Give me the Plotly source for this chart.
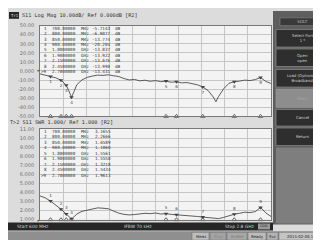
import plotly.graph_objects as go

# ---------------- data ----------------
freq_mhz = [600, 650, 700, 750, 800, 850, 875, 900, 925, 950, 1000, 1050, 1100, 1150,
            1200, 1250, 1300, 1350, 1400, 1450, 1500, 1550, 1600, 1650, 1700, 1750,
            1800, 1850, 1900, 1950, 2000, 2050, 2100, 2150, 2200, 2250, 2275, 2300,
            2350, 2400, 2450, 2500, 2550, 2600, 2650, 2700, 2750, 2800]
s11_db = [-3.2, -4.5, -6.2, -7.6, -10.1, -15.8, -22.0, -29.0, -22.5, -15.2, -9.8, -7.0,
          -5.6, -4.6, -4.9, -4.2, -5.3, -6.1, -8.4, -9.9, -9.3, -10.9, -10.2, -11.4,
          -10.6, -11.8, -11.2, -12.4, -11.9, -13.1, -12.8, -14.2, -15.3, -17.6, -21.5,
          -28.7, -34.0, -28.2, -19.5, -13.6, -11.9, -11.2, -10.1, -10.6, -9.5, -7.2,
          -11.5, -13.8]
swr = [3.62, 3.40, 3.05, 2.62, 2.15, 1.62, 1.30, 1.08, 1.32, 1.62, 1.92, 2.05, 2.18,
       2.30, 2.26, 2.20, 1.95, 1.72, 1.58, 1.52, 1.56, 1.63, 1.70, 1.66, 1.73, 1.62,
       1.66, 1.58, 1.55, 1.50, 1.47, 1.40, 1.35, 1.28, 1.22, 1.15, 1.10, 1.12, 1.25,
       1.45, 1.60, 1.70, 1.82, 1.78, 1.88, 2.35, 1.75, 1.35]

marker_ids = ["1", "2", "3", "4", "5", "6", "7", "8", ">9"]
marker_freq = [700, 800, 850, 900, 1800, 1900, 2150, 2450, 2700]
marker_freq_text = ["700.00000", "800.00000", "850.00000", "900.00000", "1.8000000",
                    "1.9000000", "2.1500000", "2.4500000", "2.7000000"]
marker_unit = ["MHz", "MHz", "MHz", "MHz", "GHz", "GHz", "GHz", "GHz", "GHz"]
s11_marker_text = ["-5.7143", "-6.9077", "-13.774", "-20.204", "-13.837", "-13.922",
                   "-13.676", "-13.990", "-13.431"]
swr_marker_text = ["3.1655", "2.2666", "1.6589", "1.1060", "1.5561", "1.5558",
                   "1.3218", "1.5434", "1.9613"]

top_tickvals = [50, 40, 30, 20, 10, 0, -10, -20, -30, -40, -50]
top_ticktext = ["50.00", "40.00", "30.00", "20.00", "10.00", "0.000", "-10.00",
                "-20.00", "-30.00", "-40.00", "-50.00"]
bot_tickvals = [11, 10, 9, 8, 7, 6, 5, 4, 3, 2, 1]
bot_ticktext = ["11.00", "10.00", "9.000", "8.000", "7.000", "6.000", "5.000",
                "4.000", "3.000", "2.000", "1.000"]
x_grid = [600, 820, 1040, 1260, 1480, 1700, 1920, 2140, 2360, 2580, 2800]

softkeys = ["Select Port<br>1 *", "Open<br>open", "Load (Optional)<br>Broadband",
            "Short", "Cancel", "Return"]

# ---------------- helpers ----------------
W, H = 321, 240
MONO = "DejaVu Sans Mono"
SANS = "DejaVu Sans"


def px(x):
    return x / W


def py(y):
    return 1 - y / H


def ann(text, x, y, size=5.0, color="#333333", xanchor="left", family=MONO):
    return dict(text=text, x=px(x), y=py(y), xref="paper", yref="paper",
                showarrow=False, xanchor=xanchor, yanchor="middle",
                font=dict(family=family, size=size, color=color), borderpad=0)


def rect(x0, y0, x1, y1, color, line=None):
    return dict(type="rect", xref="paper", yref="paper", x0=px(x0), x1=px(x1),
                y0=py(y1), y1=py(y0), fillcolor=color,
                line=dict(width=0.6 if line else 0, color=line or color), layer="above")


def val_at(xs, ys, f):
    return ys[xs.index(f)]


TRACE = "#4c4c4c"
GRID = "#c6c6c6"

fig = go.Figure()

# main traces
fig.add_trace(go.Scatter(x=freq_mhz, y=s11_db, mode="lines",
                         line=dict(color=TRACE, width=0.9), xaxis="x", yaxis="y"))
fig.add_trace(go.Scatter(x=freq_mhz, y=swr, mode="lines",
                         line=dict(color=TRACE, width=0.9), xaxis="x2", yaxis="y2"))

# markers on traces
nums = [m.replace(">", "") for m in marker_ids]
fig.add_trace(go.Scatter(x=marker_freq, y=[val_at(freq_mhz, s11_db, f) for f in marker_freq],
                         mode="markers+text", text=nums, textposition="bottom center",
                         textfont=dict(size=4.2, color="#444", family=SANS),
                         marker=dict(symbol="triangle-down", size=4, color="#444"),
                         xaxis="x", yaxis="y"))
fig.add_trace(go.Scatter(x=marker_freq, y=[val_at(freq_mhz, swr, f) for f in marker_freq],
                         mode="markers+text", text=nums, textposition="top center",
                         textfont=dict(size=4.2, color="#444", family=SANS),
                         marker=dict(symbol="triangle-down", size=4, color="#444"),
                         xaxis="x2", yaxis="y2"))
# marker flags along bottom edges
fig.add_trace(go.Scatter(x=marker_freq, y=[top_tickvals[-1]] * len(marker_freq),
                         mode="markers", cliponaxis=False,
                         marker=dict(symbol="triangle-up-open", size=4, color="#444",
                                     line=dict(width=0.8)),
                         xaxis="x", yaxis="y"))
fig.add_trace(go.Scatter(x=marker_freq, y=[bot_tickvals[-1]] * len(marker_freq),
                         mode="markers", cliponaxis=False,
                         marker=dict(symbol="triangle-up-open", size=4, color="#444",
                                     line=dict(width=0.8)),
                         xaxis="x2", yaxis="y2"))

axis_common = dict(showgrid=True, gridcolor=GRID, gridwidth=0.6, zeroline=False,
                   showline=True, mirror=True, linecolor="#777777", linewidth=0.8,
                   ticks="", fixedrange=True)

fig.update_layout(
    width=W, height=H, margin=dict(l=0, r=0, t=0, b=0),
    paper_bgcolor="#dcdcdc", plot_bgcolor="#f3f3f3", showlegend=False,
    xaxis=dict(domain=[px(32), px(263)], range=[600, 2800], tickvals=x_grid,
               showticklabels=False, anchor="y", **axis_common),
    yaxis=dict(domain=[py(108), py(15)], range=[-50, 50], tickvals=top_tickvals,
               ticktext=top_ticktext, ticklabelstandoff=4, anchor="x",
               tickfont=dict(family=SANS, size=5, color="#707070"), **axis_common),
    xaxis2=dict(domain=[px(32), px(263)], range=[600, 2800], tickvals=x_grid,
                showticklabels=False, anchor="y2", **axis_common),
    yaxis2=dict(domain=[py(214), py(121)], range=[1, 11], tickvals=bot_tickvals,
                ticktext=bot_ticktext, ticklabelstandoff=4, anchor="x2",
                tickfont=dict(family=SANS, size=5, color="#707070"), **axis_common),
)

shapes = []
annotations = []

# header of trace 1
shapes.append(rect(1, 1, 11, 8, "#262626"))
annotations.append(ann("Tr1", 2, 4.5, size=4, color="#e0e0e0"))
annotations.append(ann("S11 Log Mag 10.00dB/ Ref 0.000dB [R2]", 13, 4.5, size=5.2))
annotations.append(ann("T>2 S11 SWR 1.000/ Ref 1.000 [R2]", 1, 114, size=5.2))
# reference arrows
annotations.append(ann("▸", 30.5, 61, size=5, color="#333", xanchor="center"))
annotations.append(ann("▸", 30.5, 214, size=5, color="#333", xanchor="center"))

# marker tables
TF = 4.3
for i in range(len(marker_ids)):
    yt = 18 + 5.5 * i
    yb = 123.5 + 5.6 * i
    for (yy, vals) in ((yt, s11_marker_text), (yb, swr_marker_text)):
        annotations.append(ann(marker_ids[i], 40, yy, size=TF, xanchor="right"))
        annotations.append(ann(marker_freq_text[i], 69, yy, size=TF, xanchor="right"))
        annotations.append(ann(marker_unit[i], 72, yy, size=TF))
        annotations.append(ann(vals[i], 104, yy, size=TF, xanchor="right"))
    annotations.append(ann("dB", 106, yt, size=TF))

# right softkey panel
shapes.append(rect(265, 0, 321, 219, "#5e5e5e"))
shapes.append(rect(272, 7, 316, 15, "#3a3a3a", line="#888888"))
annotations.append(ann("SOLT", 294, 11, size=4.2, color="#bdbdbd", xanchor="center", family=SANS))
key_rows = [(19, 37), (39, 57), (60, 78), (80, 99), (101, 118), (120, 138)]
for k, (y0, y1) in enumerate(key_rows):
    fill = "#8d8d8d" if k == 3 else "#2e2e2e"
    shapes.append(rect(268, y0, 320, y1, fill, line="#9a9a9a"))
    annotations.append(dict(text=softkeys[k], x=px(294), y=py((y0 + y1) / 2),
                            xref="paper", yref="paper", showarrow=False,
                            xanchor="center", yanchor="middle", borderpad=0,
                            font=dict(family=SANS, size=3.9,
                                      color="#a9a9a9" if k == 3 else "#d2d2d2")))
shapes.append(rect(268, 140, 320, 218, "#7e7e7e"))

# bottom channel bar
shapes.append(rect(0, 217, 265, 225, "#262626"))
annotations.append(ann("Start 600 MHz", 8, 221, size=4.4, color="#cfcfcf", family=SANS))
annotations.append(ann("IFBW 70 kHz", 130, 221, size=4.4, color="#cfcfcf", xanchor="center", family=SANS))
annotations.append(ann("Stop 2.8 GHz", 247, 221, size=4.4, color="#cfcfcf", xanchor="right", family=SANS))
shapes.append(rect(250, 218, 262, 224, "#9a9a9a"))
annotations.append(ann("CDD", 256, 221, size=3.4, color="#222", xanchor="center", family=SANS))

# status bar
shapes.append(rect(0, 226, 321, 236, "#8f8f8f"))
cells = [(184, 201, "Meas", "#bdbdbd", "#222"), (202, 218, "Stop", "#a3a3a3", "#8a8a8a"),
         (219, 239, "ExtRef", "#a8a8a8", "#777"), (240, 258, "Ready", "#bcbcbc", "#222"),
         (259, 270, "Svc", "#b3b3b3", "#222"), (271, 320, "2015-02-06 12:1", "#c4c4c4", "#222")]
for (x0, x1, t, bg, fc) in cells:
    shapes.append(rect(x0, 227, x1, 235, bg, line="#777777"))
    annotations.append(ann(t, (x0 + x1) / 2, 231, size=3.9, color=fc, xanchor="center", family=SANS))

fig.update_layout(shapes=shapes, annotations=annotations)

fig.write_html("out.html")
